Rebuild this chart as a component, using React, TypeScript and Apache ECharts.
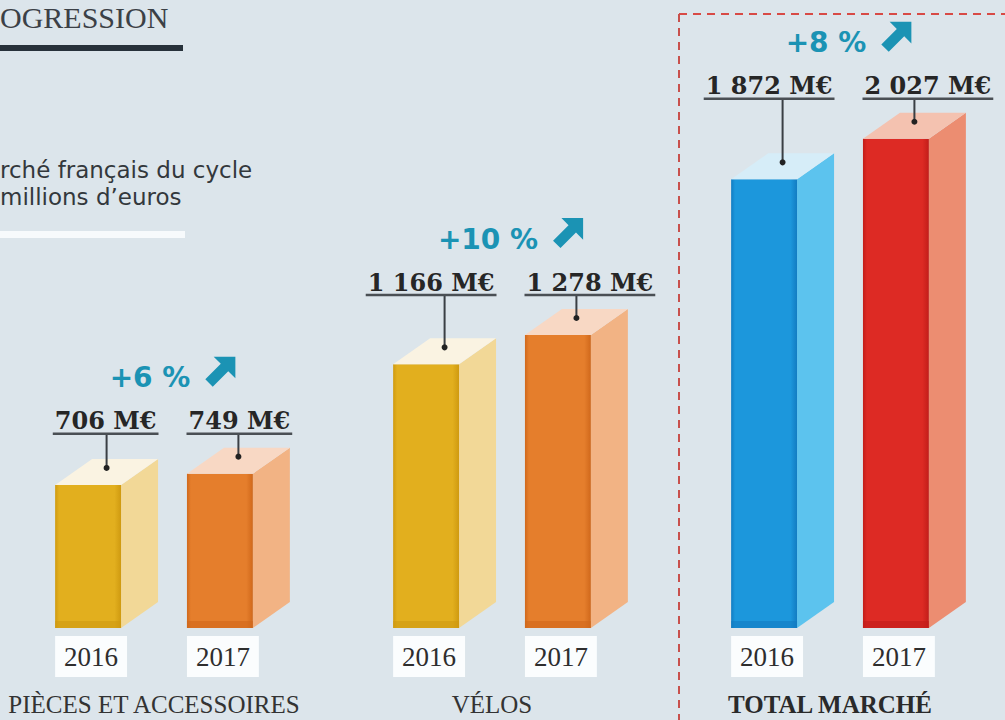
import { useEffect, useRef } from "react";
import * as echarts from "echarts";

// ---- data ----
const groups = ["PIÈCES ET ACCESSOIRES", "VÉLOS", "TOTAL MARCHÉ"];
const years = ["2016", "2017"];
const values2016 = [706, 1166, 1872];
const values2017 = [749, 1278, 2027];
const growthLabels = ["+6 %", "+10 %", "+8 %"];
const yMin = 160;
const yMax = 2400;

// ---- styling ----
const DX = 37;
const DY = -26;
const BAR_RATIO = 0.195;
const yellow = { front: "#E2AF1E", dark: "#CF9A10", side: "#F2D897", top: "#FAF3E2" };
const orange = { front: "#E57E2C", dark: "#D0681B", side: "#F2B384", top: "#F8D8C4" };
const blue = { front: "#1C97DC", dark: "#127CC2", side: "#5CC3EE", top: "#D6EDF8" };
const red = { front: "#DD2A24", dark: "#C21D19", side: "#EC8D71", top: "#F4C2B0" };
const palettes = [
  [yellow, orange],
  [yellow, orange],
  [blue, red],
];
const TEAL = "#1B93B4";
const LABEL_FONT = "bold 24px 'DejaVu Serif'";
const PCT_FONT = "bold 28px 'DejaVu Sans'";

const fmt = (v: number) => String(v).replace(/\B(?=(\d{3})+(?!\d))/g, " ") + " M€";

let ctx: CanvasRenderingContext2D | null = null;
const measure = (text: string, font: string) => {
  if (!ctx) ctx = document.createElement("canvas").getContext("2d");
  if (!ctx) return text.length * 14;
  ctx.font = font;
  return ctx.measureText(text).width;
};

const barData = groups.flatMap((_, g) => [
  [g, values2016[g], 0],
  [g, values2017[g], 1],
]);
const annoData = groups.map((_, g) => [g, values2016[g], values2017[g]]);

export default function App() {
  const ref = useRef<HTMLDivElement>(null);
  useEffect(() => {
    if (!ref.current) return;
    const chart = echarts.init(ref.current, null, { renderer: "svg" });

    const renderBar = (params: any, api: any) => {
      const g = api.value(0) as number;
      const v = api.value(1) as number;
      const yi = api.value(2) as number;
      const top = api.coord([g, v]);
      const bottom = api.coord([g, yMin]);
      const band = api.size([1, 0])[0];
      const w = band * BAR_RATIO;
      const xc = top[0] + (yi === 0 ? -1 : 1) * band * BAR_RATIO;
      const xl = xc - w / 2;
      const xr = xc + w / 2;
      const yt = top[1];
      const yb = bottom[1];
      const p = palettes[g][yi];
      const boxW = w + 6;
      return {
        type: "group",
        children: [
          {
            type: "polygon",
            shape: { points: [[xr, yt], [xr + DX, yt + DY], [xr + DX, yb + DY], [xr, yb]] },
            style: { fill: p.side },
          },
          {
            type: "rect",
            shape: { x: xl, y: yt, width: w, height: yb - yt },
            style: {
              fill: new echarts.graphic.LinearGradient(0, 0, 1, 0, [
                { offset: 0, color: p.dark },
                { offset: 0.06, color: p.front },
                { offset: 0.9, color: p.front },
                { offset: 1, color: p.dark },
              ]),
            },
          },
          {
            type: "rect",
            shape: { x: xl, y: yb - 7, width: w, height: 7 },
            style: { fill: p.dark, opacity: 0.6 },
          },
          {
            type: "polygon",
            shape: { points: [[xl, yt], [xr, yt], [xr + DX, yt + DY], [xl + DX, yt + DY]] },
            style: { fill: p.top },
          },
          {
            type: "rect",
            shape: { x: xl, y: yb + 8, width: boxW, height: 41 },
            style: { fill: "#FBFDFE" },
          },
          {
            type: "text",
            style: {
              text: years[yi],
              x: xl + boxW / 2,
              y: yb + 29,
              align: "center",
              verticalAlign: "middle",
              fontFamily: "'Liberation Serif', serif",
              fontSize: 27,
              fill: "#2E2E2E",
            },
          },
        ],
      };
    };

    const renderAnno = (params: any, api: any) => {
      const g = api.value(0) as number;
      const v1 = api.value(1) as number;
      const v2 = api.value(2) as number;
      const p1 = api.coord([g, v1]);
      const p2 = api.coord([g, v2]);
      const band = api.size([1, 0])[0];
      const off = band * BAR_RATIO;
      const cx = p1[0];
      const mid = cx + DX / 2;
      const lineY = Math.min(p1[1], p2[1]) - 40;
      const children: any[] = [];
      const items: [number, number[], number][] = [
        [v1, p1, -1],
        [v2, p2, 1],
      ];
      items.forEach(([v, p, s]) => {
        const text = fmt(v);
        const tw = measure(text, LABEL_FONT);
        const x0 = s < 0 ? mid - 16 - tw : mid + 16;
        const bx = cx + s * off + DX / 2;
        const dotY = p[1] - 17;
        children.push({
          type: "line",
          shape: { x1: bx, y1: lineY, x2: bx, y2: dotY },
          style: { stroke: "#3A3F44", lineWidth: 2 },
        });
        children.push({
          type: "circle",
          shape: { cx: bx, cy: dotY, r: 3 },
          style: { fill: "#222" },
        });
        children.push({
          type: "line",
          shape: { x1: x0 - 2, y1: lineY, x2: x0 + tw + 2, y2: lineY },
          style: { stroke: "#4A4F54", lineWidth: 2.5 },
        });
        children.push({
          type: "text",
          style: {
            text,
            x: x0,
            y: lineY - 13,
            align: "left",
            verticalAlign: "middle",
            fontFamily: "'DejaVu Serif', serif",
            fontWeight: "bold",
            fontSize: 24,
            fill: "#262626",
          },
        });
      });
      const pct = growthLabels[g];
      const pw = measure(pct, PCT_FONT);
      const arrow = 31;
      const gap = 14;
      const total = pw + gap + arrow;
      const sx = mid - total / 2;
      const base = lineY - 46;
      children.push({
        type: "text",
        style: {
          text: pct,
          x: sx,
          y: base - 10,
          align: "left",
          verticalAlign: "middle",
          fontFamily: "'DejaVu Sans', sans-serif",
          fontWeight: "bold",
          fontSize: 28,
          fill: TEAL,
        },
      });
      const ax = sx + pw + gap;
      const ay = base - arrow;
      const pts = [
        [0.3, 0],
        [1, 0],
        [1, 0.7],
        [0.77, 0.47],
        [0.27, 0.97],
        [0.03, 0.73],
        [0.53, 0.23],
      ].map(([x, y]) => [ax + x * arrow, ay + y * arrow]);
      children.push({ type: "polygon", shape: { points: pts }, style: { fill: TEAL } });
      return { type: "group", children };
    };

    chart.setOption({
      animation: false,
      backgroundColor: "#DCE5EB",
      grid: { left: -15, width: 1014, top: 41, bottom: 92, containLabel: false, outerBoundsMode: "none" },
      xAxis: {
        type: "category",
        data: groups,
        axisLine: { show: false },
        axisTick: { show: false },
        splitLine: { show: false },
        axisLabel: {
          margin: 64,
          interval: 0,
          formatter: (val: string, idx: number) => (idx === 2 ? `{b|${val}}` : `{n|${val}}`),
          rich: {
            n: { fontFamily: "'Liberation Serif', serif", fontSize: 25, color: "#333", lineHeight: 25 },
            b: { fontFamily: "'Liberation Serif', serif", fontSize: 25, fontWeight: "bold", color: "#2a2a2a", lineHeight: 25 },
          },
        },
      },
      yAxis: { type: "value", min: yMin, max: yMax, show: false, splitLine: { show: false } },
      graphic: [
        {
          type: "text",
          x: 0,
          y: 17,
          style: { text: "OGRESSION", fontFamily: "'Liberation Serif', serif", fontSize: 30, fill: "#3B4046", align: "left", verticalAlign: "middle" },
        },
        { type: "rect", shape: { x: 0, y: 45, width: 183, height: 6 }, style: { fill: "#27313A" } },
        {
          type: "text",
          x: 0,
          y: 170,
          style: { text: "rché français du cycle", fontFamily: "'DejaVu Sans', sans-serif", fontSize: 23, fill: "#33383C", align: "left", verticalAlign: "middle" },
        },
        {
          type: "text",
          x: 0,
          y: 197,
          style: { text: "millions d’euros", fontFamily: "'DejaVu Sans', sans-serif", fontSize: 23, fill: "#33383C", align: "left", verticalAlign: "middle" },
        },
        { type: "rect", shape: { x: 0, y: 231, width: 185, height: 7 }, style: { fill: "#F7FAFC" } },
        {
          type: "line",
          shape: { x1: 679, y1: 14, x2: 1010, y2: 14 },
          style: { stroke: "#D84A45", lineWidth: 2, lineDash: [8, 6] },
        },
        {
          type: "line",
          shape: { x1: 679, y1: 14, x2: 679, y2: 725 },
          style: { stroke: "#C8504C", lineWidth: 2, lineDash: [8, 6] },
        },
      ],
      series: [
        {
          type: "custom",
          name: "bars",
          data: barData,
          encode: { x: 0, y: 1 },
          renderItem: renderBar,
          clip: false,
        },
        {
          type: "custom",
          name: "annotations",
          data: annoData,
          encode: { x: 0, y: [1, 2] },
          renderItem: renderAnno,
          clip: false,
        },
      ],
    });
    return () => chart.dispose();
  }, []);
  return <div ref={ref} style={{ position: "absolute", left: 0, top: 0, width: 1005, height: 720 }} />;
}
